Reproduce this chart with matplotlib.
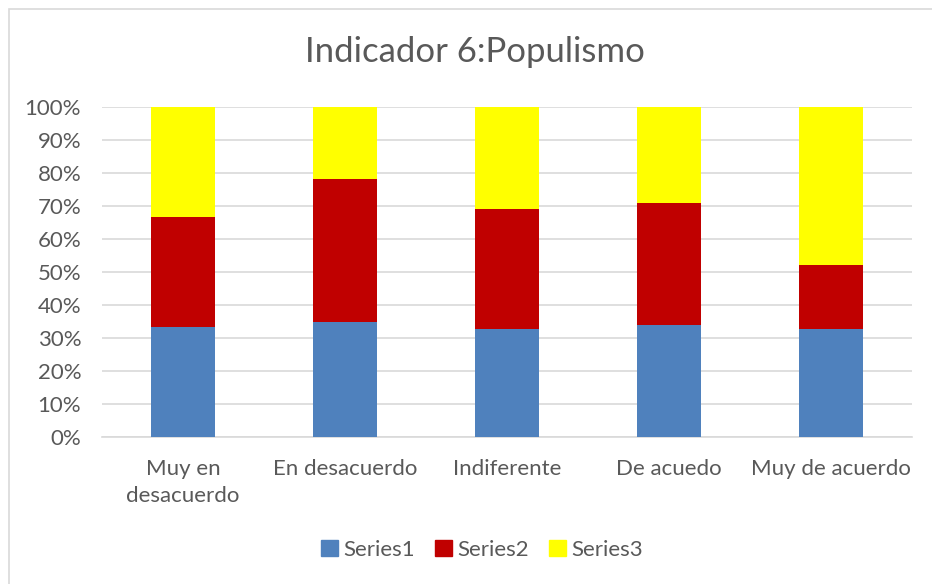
import matplotlib.pyplot as plt
from matplotlib.patches import Rectangle, Patch
from matplotlib.ticker import PercentFormatter

# Datos (porcentajes)
categorias = ['Muy en\ndesacuerdo', 'En desacuerdo', 'Indiferente', 'De acuedo', 'Muy de acuerdo']
series1 = [33.3, 34.7, 32.8, 33.9, 32.6]
series2 = [33.3, 43.5, 36.3, 37.0, 19.6]
series3 = [33.4, 21.8, 30.9, 29.1, 47.8]
nombres = ['Series1', 'Series2', 'Series3']
colores = ['#4f81bd', '#c00000', '#ffff00']

plt.rcParams['font.family'] = ['Lato', 'DejaVu Sans']
gris = '#595959'

fig = plt.figure(figsize=(9.32, 5.84), dpi=100)
W, H = 932, 584

# marco del gráfico
fig.patches.append(Rectangle((9 / W, -0.05), 1.2, 1 - 9 / H + 0.05, transform=fig.transFigure,
                             fill=False, edgecolor='#d9d9d9', linewidth=1.2))

ax = fig.add_axes([102 / W, (H - 437) / H, 810 / W, 330 / H])

x = range(len(categorias))
abajo = [0] * len(categorias)
for nombre, valores, color in zip(nombres, [series1, series2, series3], colores):
    ax.bar(x, valores, width=0.4, bottom=abajo, color=color, label=nombre, zorder=3)
    abajo = [a + v for a, v in zip(abajo, valores)]

ax.set_xlim(-0.5, 4.5)
ax.set_ylim(0, 100)
ax.set_yticks(range(0, 101, 10))
ax.yaxis.set_major_formatter(PercentFormatter(decimals=0))
ax.grid(axis='y', color='#d9d9d9', linewidth=1.2, zorder=0)
for s in ['top', 'right', 'left']:
    ax.spines[s].set_visible(False)
ax.spines['bottom'].set_color('#d9d9d9')
ax.spines['bottom'].set_linewidth(1.2)
ax.tick_params(length=0, labelsize=16, colors=gris)
ax.tick_params(axis='x', pad=16)
ax.tick_params(axis='y', pad=15)
ax.set_xticks(list(x))
ax.set_xticklabels(categorias, va='top', linespacing=1.4)

fig.text(475 / W, 1 - 52 / H, 'Indicador 6:Populismo', ha='center', va='center',
         fontsize=25, color=gris)

handles = [Patch(color=c, label=n) for n, c in zip(nombres, colores)]
fig.legend(handles=handles, loc='center', bbox_to_anchor=(482 / W, 1 - 550 / H), ncol=3,
           frameon=False, fontsize=16, labelcolor=gris, handlelength=0.75, handleheight=0.75,
           handletextpad=0.25, columnspacing=0.9)

fig.savefig('out.png', dpi=100)
